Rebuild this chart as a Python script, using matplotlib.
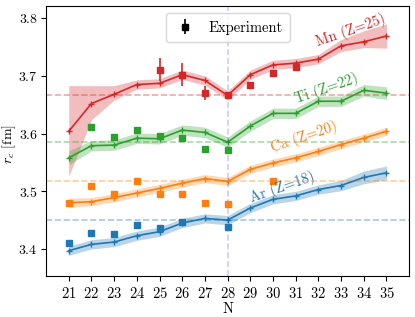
import numpy as np
import matplotlib
matplotlib.use('Agg')
import matplotlib.pyplot as plt

plt.rcParams['font.family'] = 'serif'
plt.rcParams['font.serif'] = ['cmr10']
plt.rcParams['mathtext.fontset'] = 'cm'
plt.rcParams['axes.formatter.use_mathtext'] = True
plt.rcParams['font.size'] = 10.5

# 중성자 수
N = np.arange(21, 36)

# 계산값 (선)
mn_calc = [3.604, 3.652, 3.668, 3.685, 3.687, 3.702, 3.692, 3.666, 3.702, 3.719, 3.722, 3.729, 3.752, 3.759, 3.769]
ti_calc = [3.558, 3.579, 3.580, 3.592, 3.591, 3.606, 3.602, 3.585, 3.613, 3.635, 3.635, 3.656, 3.656, 3.675, 3.670]
ca_calc = [3.480, 3.482, 3.489, 3.497, 3.505, 3.514, 3.522, 3.517, 3.538, 3.549, 3.558, 3.569, 3.581, 3.592, 3.604]
ar_calc = [3.397, 3.408, 3.412, 3.423, 3.430, 3.445, 3.453, 3.450, 3.471, 3.486, 3.492, 3.503, 3.510, 3.524, 3.532]

# 불확도 밴드
mn_low = [3.526, 3.624, 3.658, 3.677, 3.679, 3.694, 3.684, 3.658, 3.694, 3.711, 3.714, 3.721, 3.742, 3.749, 3.748]
mn_high = [3.683, 3.683, 3.683, 3.693, 3.695, 3.710, 3.700, 3.674, 3.710, 3.727, 3.730, 3.737, 3.763, 3.778, 3.790]
ti_err = [0.012, 0.009, 0.009, 0.009, 0.009, 0.009, 0.009, 0.009, 0.009, 0.009, 0.009, 0.009, 0.009, 0.010, 0.011]
ca_err = [0.008, 0.007, 0.007, 0.007, 0.007, 0.007, 0.007, 0.007, 0.007, 0.007, 0.007, 0.007, 0.007, 0.007, 0.007]
ar_err = [0.008, 0.008, 0.008, 0.008, 0.008, 0.008, 0.008, 0.008, 0.008, 0.008, 0.008, 0.008, 0.009, 0.011, 0.012]

# 실험값
mn_N = [25, 26, 27, 28, 29, 30, 31]
mn_exp = [3.711, 3.702, 3.670, 3.666, 3.684, 3.705, 3.715]
mn_exp_err = [0.020, 0.020, 0.012, 0.004, 0.002, 0.002, 0.004]
ti_N = [22, 23, 24, 25, 26, 27, 28]
ti_exp = [3.611, 3.594, 3.607, 3.595, 3.592, 3.573, 3.571]
ti_exp_err = [0.002, 0.002, 0.002, 0.003, 0.002, 0.002, 0.002]
ca_N = [21, 22, 23, 24, 25, 26, 27, 28, 30]
ca_exp = [3.479, 3.509, 3.496, 3.518, 3.495, 3.496, 3.479, 3.478, 3.517]
ca_exp_err = [0.002, 0.002, 0.002, 0.002, 0.002, 0.002, 0.002, 0.002, 0.003]
ar_N = [21, 22, 23, 24, 25, 26, 28]
ar_exp = [3.410, 3.428, 3.426, 3.442, 3.436, 3.446, 3.438]
ar_exp_err = [0.002, 0.002, 0.002, 0.002, 0.004, 0.002, 0.002]

labels = ['Mn (Z=25)', 'Ti (Z=22)', 'Ca (Z=20)', 'Ar (Z=18)']
colors = ['#d62728', '#2ca02c', '#ff7f0e', '#1f77b4']

fig = plt.figure(figsize=(4.15, 3.17), dpi=100)
ax = fig.add_axes([0.111, 0.129, 0.875, 0.852])

series = [
    (mn_calc, np.array(mn_low), np.array(mn_high), mn_N, mn_exp, mn_exp_err),
    (ti_calc, np.array(ti_calc) - ti_err, np.array(ti_calc) + ti_err, ti_N, ti_exp, ti_exp_err),
    (ca_calc, np.array(ca_calc) - ca_err, np.array(ca_calc) + ca_err, ca_N, ca_exp, ca_exp_err),
    (ar_calc, np.array(ar_calc) - ar_err, np.array(ar_calc) + ar_err, ar_N, ar_exp, ar_exp_err),
]

for (calc, lo, hi, en, ev, ee), c in zip(series, colors):
    ax.fill_between(N, lo, hi, color=c, alpha=0.3, lw=0)
    ax.plot(N, calc, color=c, marker='+', ms=5, lw=1.2)
    ax.errorbar(en, ev, yerr=ee, fmt='s', color=c, ms=4.5, elinewidth=1.2, capsize=0)
    # N=28 기준 수평선
    ax.axhline(calc[7], color=c, ls='--', alpha=0.4, lw=1.2)

ax.axvline(28, color='b', ls='--', alpha=0.2, lw=1.2)

# 회전된 라벨
ax.text(33.42, 3.778, labels[0], color=colors[0], rotation=19, ha='center', va='center', fontsize=10.5)
ax.text(32.34, 3.678, labels[1], color=colors[1], rotation=19, ha='center', va='center', fontsize=10.5)
ax.text(31.37, 3.593, labels[2], color=colors[2], rotation=19, ha='center', va='center', fontsize=10.5)
ax.text(30.42, 3.506, labels[3], color=colors[3], rotation=19, ha='center', va='center', fontsize=10.5)

# 범례용 핸들
ax.errorbar([], [], yerr=[], fmt='s', color='k', ms=4.5, elinewidth=1.2, label='Experiment')
ax.legend(loc='upper center', handlelength=1.6, borderpad=0.5)

ax.set_xlim(20, 36)
ax.set_ylim(3.353, 3.821)
ax.set_xticks(N)
ax.set_yticks([3.4, 3.5, 3.6, 3.7, 3.8])
ax.tick_params(axis='y', labelsize=10, pad=2.5)
ax.set_xlabel('N', labelpad=1)
ax.set_ylabel(r'$r_c$ [fm]', fontsize=10)
ax.yaxis.set_label_coords(-0.078, 0.49)

fig.savefig('out.png', dpi=100)
